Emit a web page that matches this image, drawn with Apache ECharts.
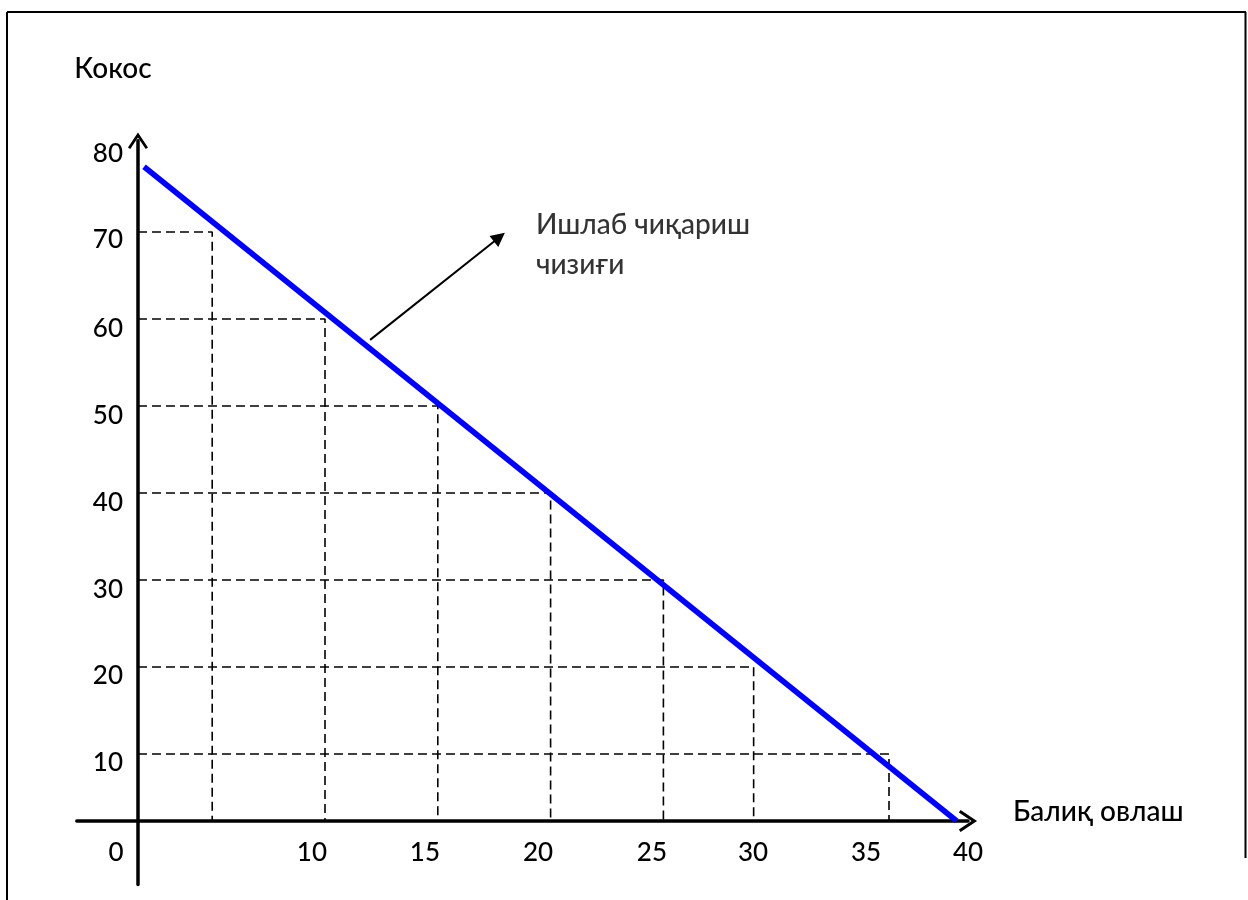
<!DOCTYPE html>
<html>
<head>
<meta charset="utf-8">
<script src="https://cdn.jsdelivr.net/npm/echarts@6/dist/echarts.min.js"></script>
<style>
html,body{margin:0;padding:0;background:#fff;}
#chart{width:1248px;height:900px;}
</style>
</head>
<body>
<div id="chart"></div>
<script>
// ---- data ----
// production-possibility points marked by dashed guides
const fishing = [5, 10, 15, 20, 25, 29, 35];
const coconut = [70, 60, 50, 40, 30, 20, 10];
// the drawn production-possibility line (start, end)
const ppfX = [1.98, 38.0];
const ppfY = [77.5, 2.3];
// tick labels (text and where each one sits along its axis)
const yTickTexts = ['80', '70', '60', '50', '40', '30', '20', '10'];
const yTickPlaces = [79.0, 69.1, 58.9, 48.9, 38.9, 28.9, 19.0, 9.0];
const xTickTexts = ['0', '10', '15', '20', '25', '30', '35', '40'];
const xTickPlaces = [0.74, 9.42, 14.43, 19.44, 24.49, 28.97, 33.98, 38.5];
// where the two axes cross (in data units)
const axisCrossX = 1.71;
const axisCrossY = 2.3;
// annotation arrow and its text
const noteArrowX = [12.0, 17.73];
const noteArrowY = [57.6, 69.4];
const noteText = 'Ишлаб чиқариш\nчизиғи';
const notePoint = [19.35, 68.5];
const xName = 'Балиқ овлаш';
const yName = 'Кокос';

// ---- layout ----
const xMin = -1, xMax = 38.5, yMin = -5, yMax = 80.5;
const gridLeft = 76.84, gridRight = 280.04, gridTop = 140.65, gridBottom = 15.5;
const gridW = 1248 - gridLeft - gridRight;
const gridH = 900 - gridTop - gridBottom;
const yAxisOffset = -((axisCrossX - xMin) / (xMax - xMin) * gridW);
const xAxisOffset = -((axisCrossY - yMin) / (yMax - yMin) * gridH);

const FONT = 'Lato, "Noto Sans", "DejaVu Sans", sans-serif';
const ARROW = 'path://M0,18 L12,0 L24,18 L21.26,19.82 L12,6 L2.74,19.82 Z';

function lookup(places, texts) {
  return function (v) {
    let best = 0;
    for (let i = 0; i < places.length; i++) {
      if (Math.abs(places[i] - v) < Math.abs(places[best] - v)) best = i;
    }
    return texts[best];
  };
}

const guideSeries = fishing.map((x, i) => ({
  type: 'line',
  data: [[axisCrossX, coconut[i]], [x, coconut[i]], [x, axisCrossY]],
  symbol: 'none',
  silent: true,
  z: 2,
  lineStyle: { color: '#000', width: 1.6, type: [9, 5] }
}));

const chart = echarts.init(document.getElementById('chart'), null, { renderer: 'canvas' });
chart.setOption({
  animation: false,
  backgroundColor: '#fff',
  textStyle: { fontFamily: FONT, color: '#000' },
  grid: { left: gridLeft, right: gridRight, top: gridTop, bottom: gridBottom, containLabel: false },
  xAxis: {
    type: 'value', min: xMin, max: xMax, position: 'bottom', offset: xAxisOffset,
    axisLine: { show: true, onZero: false, symbol: ['none', ARROW], symbolSize: [22, 20],
      lineStyle: { color: '#000', width: 3.5 } },
    axisTick: { show: false },
    splitLine: { show: false },
    axisLabel: {
      customValues: xTickPlaces,
      formatter: lookup(xTickPlaces, xTickTexts),
      margin: 19, color: '#000', fontSize: 26, fontWeight: 500, fontFamily: FONT
    },
    name: xName, nameLocation: 'end', nameGap: 45,
    nameTextStyle: { color: '#000', fontSize: 28, fontWeight: 500, fontFamily: FONT,
      verticalAlign: 'bottom', lineHeight: 18 }
  },
  yAxis: {
    type: 'value', min: yMin, max: yMax, position: 'left', offset: yAxisOffset,
    axisLine: { show: true, onZero: false, symbol: ['none', ARROW], symbolSize: [20, 17],
      lineStyle: { color: '#000', width: 3.5 } },
    axisTick: { show: false },
    splitLine: { show: false },
    axisLabel: {
      customValues: yTickPlaces,
      formatter: lookup(yTickPlaces, yTickTexts),
      margin: 15, color: '#000', fontSize: 26, fontWeight: 500, fontFamily: FONT
    },
    name: yName, nameLocation: 'end', nameGap: 58,
    nameTextStyle: { color: '#000', fontSize: 28, fontWeight: 500, fontFamily: FONT, padding: [0, 50, 0, 0] }
  },
  graphic: [
    { type: 'line', shape: { x1: 7, y1: 12, x2: 7, y2: 900 }, style: { stroke: '#000', lineWidth: 2 } },
    { type: 'line', shape: { x1: 7, y1: 12, x2: 1246, y2: 12 }, style: { stroke: '#000', lineWidth: 2 } },
    { type: 'line', shape: { x1: 1245.5, y1: 12, x2: 1245.5, y2: 858 }, style: { stroke: '#000', lineWidth: 2 } }
  ],
  series: guideSeries.concat([
    {
      type: 'line',
      name: 'PPF',
      data: [[ppfX[0], ppfY[0]], [ppfX[1], ppfY[1]]],
      symbol: 'none',
      z: 5,
      lineStyle: { color: '#0000ff', width: 5.5, cap: 'butt' }
    },
    {
      type: 'scatter',
      data: [notePoint],
      symbolSize: 0,
      silent: true,
      z: 6,
      label: {
        show: true, position: 'right', distance: 0, formatter: noteText,
        color: '#000', fontSize: 28, fontWeight: 500, fontFamily: FONT, lineHeight: 40, align: 'left'
      },
      markLine: {
        silent: true,
        animation: false,
        symbol: ['none', 'triangle'],
        symbolSize: 14,
        label: { show: false },
        lineStyle: { color: '#000', width: 2, type: 'solid' },
        data: [[{ coord: [noteArrowX[0], noteArrowY[0]] }, { coord: [noteArrowX[1], noteArrowY[1]] }]]
      }
    }
  ])
});
</script>
</body>
</html>
